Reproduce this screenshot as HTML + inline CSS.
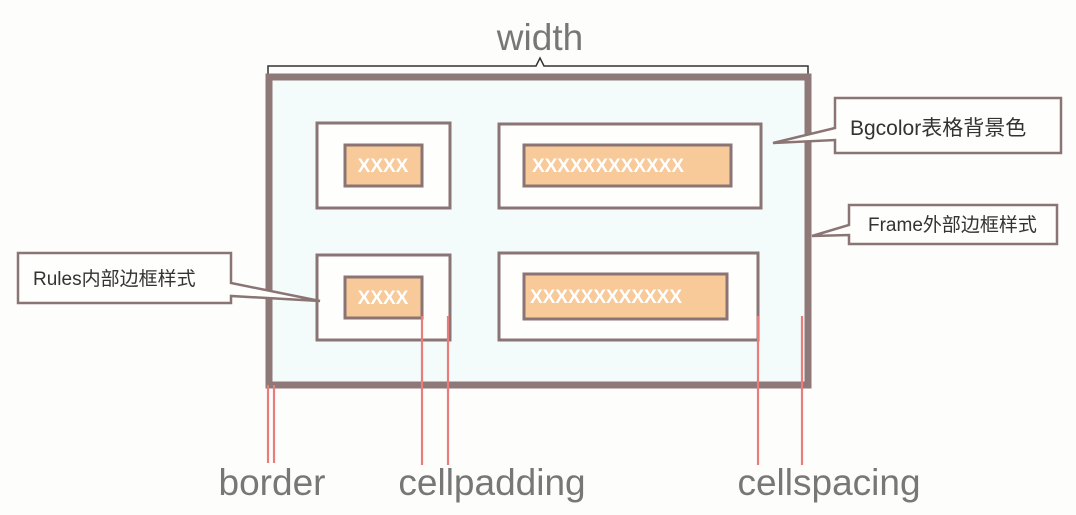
<!DOCTYPE html>
<html><head><meta charset="utf-8"><style>
html,body{margin:0;padding:0;background:#fdfdfb;}
svg{display:block;font-family:"Liberation Sans","Noto Sans CJK SC",sans-serif;}
</style></head><body>
<svg width="1076" height="515" viewBox="0 0 1076 515">
<rect x="0" y="0" width="1076" height="515" fill="#fdfdfb"/>
<!-- width brace -->
<path d="M268 76 V66 H536 L540 58 L544 66 H808 V76" fill="none" stroke="#333" stroke-width="1.5"/>
<text x="540" y="50" font-size="37" fill="#777" text-anchor="middle">width</text>
<!-- outer table -->
<rect x="269" y="77" width="539" height="308" fill="#f4fbfb" stroke="#8e7878" stroke-width="7"/>
<!-- cells -->
<g stroke="#8a7474" stroke-width="3">
<rect x="317" y="123" width="133" height="85" fill="#fefefc"/>
<rect x="499" y="124" width="262" height="84" fill="#fefefc"/>
<rect x="317" y="255" width="133" height="85" fill="#fefefc"/>
<rect x="499" y="253" width="259" height="87" fill="#fefefc"/>
<rect x="345" y="145" width="77" height="41" fill="#f8c999"/>
<rect x="524" y="145" width="207" height="41" fill="#f8c999"/>
<rect x="345" y="277" width="77" height="41" fill="#f8c999"/>
<rect x="524" y="274" width="203" height="45" fill="#f8c999"/>
</g>
<g fill="#fff" font-size="19" font-weight="bold" text-anchor="middle">
<text x="383" y="172">XXXX</text>
<text x="608" y="172">XXXXXXXXXXXX</text>
<text x="383" y="304">XXXX</text>
<text x="606" y="303">XXXXXXXXXXXX</text>
</g>
<!-- callouts -->
<g fill="#fefefc" stroke="#8a7474" stroke-width="2.5">
<path d="M835 98 H1061 V153 H835 V140 L773 143 L835 128 Z"/>
<path d="M849 205 H1057 V244 H849 V235 L812 236 L849 225 Z"/>
<path d="M18 253 H231 V283 L320 301 L231 296 V303 H18 Z"/>
</g>
<g fill="#333" font-size="19">
<text x="850" y="135" font-size="21">Bgcolor表格背景色</text>
<text x="868" y="231">Frame外部边框样式</text>
<text x="33" y="285">Rules内部边框样式</text>
</g>
<!-- red guide lines -->
<g stroke="#ea7c7c" stroke-width="2.2">
<line x1="268" y1="385" x2="268" y2="463"/>
<line x1="274" y1="385" x2="274" y2="463"/>
<line x1="422" y1="316" x2="422" y2="465"/>
<line x1="448" y1="316" x2="448" y2="465"/>
<line x1="758" y1="316" x2="758" y2="465"/>
<line x1="802" y1="316" x2="802" y2="465"/>
</g>
<g fill="#777" font-size="37" text-anchor="middle">
<text x="272" y="495">border</text>
<text x="492" y="495">cellpadding</text>
<text x="829" y="495">cellspacing</text>
</g>
</svg>
</body></html>
